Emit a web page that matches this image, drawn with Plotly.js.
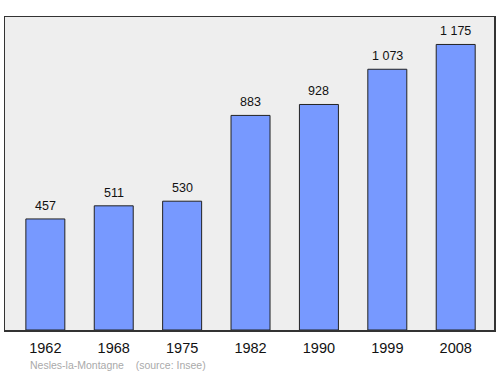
<!DOCTYPE html>
<html><head><meta charset="utf-8">
<script src="https://cdn.plot.ly/plotly-3.0.1.min.js"></script>
<style>html,body{margin:0;padding:0;background:#fff}#c{width:500px;height:374px}</style>
</head><body><div id="c"></div>
<script>
var years = ["1962","1968","1975","1982","1990","1999","2008"];
var population = [457, 511, 530, 883, 928, 1073, 1175];
var footerText = "Nesles-la-Montagne    (source: Insee)";

function fmt(v){ return String(v).replace(/\B(?=(\d{3})+(?!\d))/g, "\u00a0"); }

var trace = {
  type: "bar", x: years, y: population, width: 0.57,
  marker: {color: "#7799ff", line: {color: "#222", width: 1}},
  hoverinfo: "none"
};
var annotations = years.map(function(y, i){
  return {xref: "x", yref: "y", x: i, y: population[i], text: fmt(population[i]), showarrow: false,
    yanchor: "bottom", yshift: 4, font: {family: "Liberation Sans, Arial", size: 12.5, color: "#111"}};
});
annotations.push({xref: "paper", yref: "paper", x: 0.047, y: -0.112, xanchor: "left", yanchor: "middle",
  text: footerText.replace(/ /g, "\u00a0"), showarrow: false, font: {family: "Liberation Sans, Arial", size: 10.5, color: "#aaaaaa"}});

var layout = {
  width: 500, height: 374,
  margin: {l: 5, r: 6, t: 17, b: 44},
  paper_bgcolor: "#ffffff", plot_bgcolor: "#eeeeee",
  showlegend: false,
  xaxis: {type: "category", range: [-0.59, 6.56], showline: true, mirror: true, linecolor: "#333", linewidth: 1.5,
    ticks: "outside", ticklen: 4, tickcolor: "rgba(0,0,0,0)", showgrid: false,
    tickfont: {family: "Liberation Sans, Arial", size: 14.5, color: "#111"}},
  yaxis: {range: [0, 1288], showline: true, mirror: true, linecolor: "#333", linewidth: 1.5,
    showticklabels: false, showgrid: false, zeroline: false, ticks: ""},
  annotations: annotations
};
Plotly.newPlot("c", [trace], layout, {staticPlot: true, displayModeBar: false});
</script></body></html>
